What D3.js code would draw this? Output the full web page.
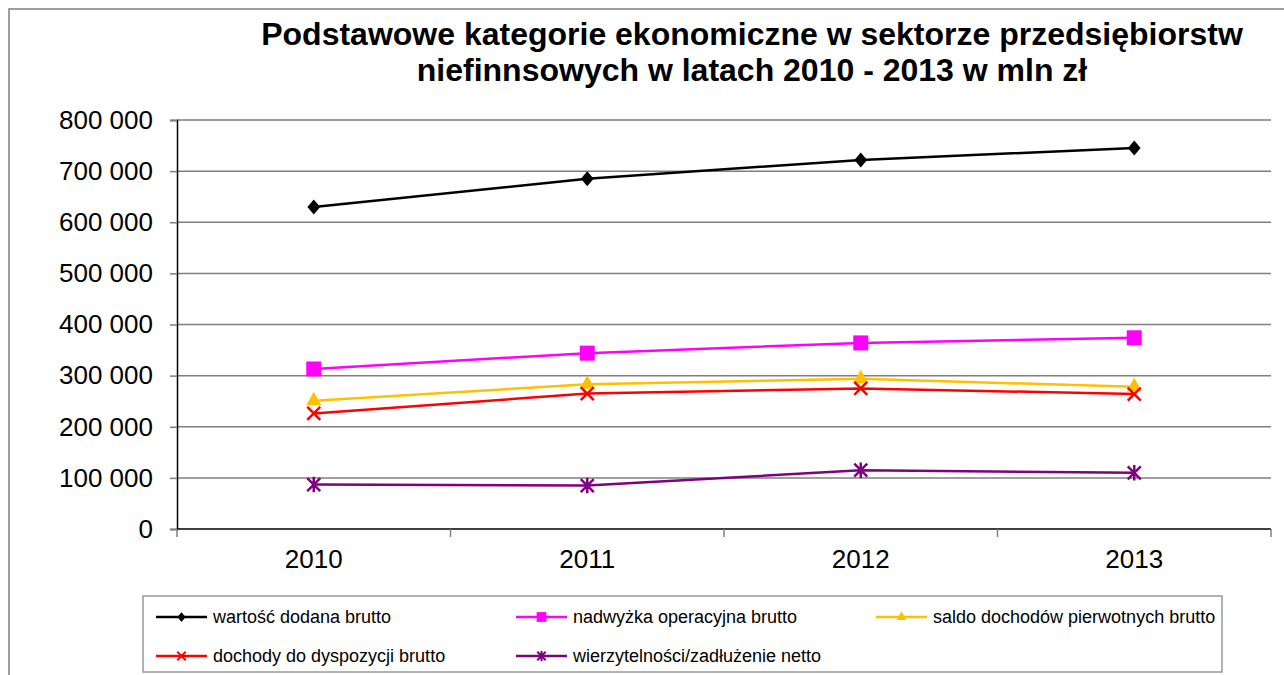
<!DOCTYPE html>
<html>
<head>
<meta charset="utf-8">
<script src="https://cdn.jsdelivr.net/npm/d3@7"></script>
<style>
  body { margin: 0; background: #fff; }
  svg { font-family: "Liberation Sans", Arial, sans-serif; }
</style>
</head>
<body>
<div id="chart"></div>
<script>
const years = ["2010", "2011", "2012", "2013"];
const wartoscDodana = [630000, 685000, 722000, 745000];
const nadwyzka = [313000, 344000, 364000, 374000];
const saldoDochodow = [251000, 283000, 294000, 278000];
const dochodyDyspozycji = [226000, 265000, 275000, 264000];
const wierzytelnosci = [87000, 85000, 115000, 110000];
const yTicks = [0, 100000, 200000, 300000, 400000, 500000, 600000, 700000, 800000];

const series = [
    { name: "wartość dodana brutto", values: wartoscDodana, color: "#000000", marker: "diamond" },
    { name: "nadwyżka operacyjna brutto", values: nadwyzka, color: "#FF00FF", marker: "square" },
    { name: "saldo dochodów pierwotnych brutto", values: saldoDochodow, color: "#FFC000", marker: "triangle" },
    { name: "dochody do dyspozycji brutto", values: dochodyDyspozycji, color: "#FF0000", marker: "x" },
    { name: "wierzytelności/zadłużenie netto", values: wierzytelnosci, color: "#800080", marker: "star" }
];

var width = 1284, height = 675;
var margin = { top: 120, right: 13, bottom: 146, left: 177 };

const svg = d3.select("#chart").append("svg").attr("width", width).attr("height", height);

// outer frame (only top & left visible)
svg.append("path")
    .attr("d", `M9,${height} L9,9 L${width},9`)
    .attr("fill", "none")
    .attr("stroke", "#808080")
    .attr("stroke-width", 1.5);

const x_scale = d3.scaleBand()
    .domain(years)
    .range([margin.left, width - margin.right])
    .padding(0);

const y_scale = d3.scaleLinear()
    .domain([0, 800000])
    .range([height - margin.bottom, margin.top]);

const fmt = d3.formatLocale({ decimal: ",", thousands: " ", grouping: [3], currency: ["", ""] }).format(",");

// gridlines
svg.append("g")
    .selectAll("line")
    .data(yTicks.filter(d => d > 0))
    .join("line")
    .attr("x1", margin.left)
    .attr("x2", width - margin.right)
    .attr("y1", d => y_scale(d))
    .attr("y2", d => y_scale(d))
    .attr("stroke", "#7f7f7f")
    .attr("stroke-width", 1.5);

// y axis
const yAxis = svg.append("g")
    .attr("transform", `translate(${margin.left},0)`)
    .call(d3.axisLeft(y_scale).tickValues(yTicks).tickFormat(fmt).tickSize(7).tickPadding(17));
yAxis.select(".domain").attr("stroke", "#000").attr("stroke-width", 1.5);
yAxis.selectAll(".tick line").attr("stroke", "#7f7f7f").attr("stroke-width", 1.5);
yAxis.selectAll("text").attr("font-size", "26px").attr("fill", "#000");
yAxis.attr("font-family", null);

// x axis
const xAxis = svg.append("g")
    .attr("transform", `translate(0,${height - margin.bottom})`)
    .call(d3.axisBottom(x_scale).tickSize(0).tickPadding(21));
xAxis.select(".domain").remove();
xAxis.selectAll("text").attr("font-size", "26px").attr("fill", "#000");
xAxis.attr("font-family", null);

svg.append("line")
    .attr("x1", margin.left).attr("x2", width - margin.right)
    .attr("y1", y_scale(0)).attr("y2", y_scale(0))
    .attr("stroke", "#000").attr("stroke-width", 1.5);

const boundaries = years.map(d => x_scale(d)).concat([x_scale.range()[1]]);
svg.append("g")
    .selectAll("line")
    .data(boundaries)
    .join("line")
    .attr("x1", d => d).attr("x2", d => d)
    .attr("y1", y_scale(0)).attr("y2", y_scale(0) + 8)
    .attr("stroke", "#7f7f7f")
    .attr("stroke-width", 1.5);

// markers
function markerPath(type, s) {
    if (type === "diamond") return `M0,${-s}L${s * 0.85},0L0,${s}L${-s * 0.85},0Z`;
    if (type === "square") return `M${-s},${-s}H${s}V${s}H${-s}Z`;
    if (type === "triangle") return `M0,${-s * 1.2}L${s},${s * 0.6}H${-s}Z`;
    if (type === "x") return `M${-s},${-s}L${s},${s}M${-s},${s}L${s},${-s}`;
    if (type === "star") return `M${-s},${-s}L${s},${s}M${-s},${s}L${s},${-s}M0,${-s * 1.2}V${s * 1.2}`;
}
const markerSize = { diamond: 7.5, square: 7.5, triangle: 7.5, x: 6.5, star: 6.5 };

const cx = d => x_scale(d) + x_scale.bandwidth() / 2;

series.forEach(s => {
    const pts = years.map((y, i) => ({ year: y, value: s.values[i] }));
    svg.append("path")
        .datum(pts)
        .attr("stroke", s.color)
        .attr("fill", "none")
        .attr("stroke-width", 2.5)
        .attr("d", d3.line().x(d => cx(d.year)).y(d => y_scale(d.value)));

    const filled = s.marker === "diamond" || s.marker === "square" || s.marker === "triangle";
    svg.append("g")
        .selectAll("path")
        .data(pts)
        .join("path")
        .attr("transform", d => `translate(${cx(d.year)},${y_scale(d.value)})`)
        .attr("d", markerPath(s.marker, markerSize[s.marker]))
        .attr("fill", filled ? s.color : "none")
        .attr("stroke", s.color)
        .attr("stroke-width", filled ? 0 : 2.5);
});

// title
const title = svg.append("text")
    .attr("text-anchor", "middle")
    .style("font-weight", "bold")
    .style("font-size", "32px")
    .attr("fill", "#000");
title.append("tspan").attr("x", 752).attr("y", 45).text("Podstawowe kategorie ekonomiczne w sektorze przedsiębiorstw");
title.append("tspan").attr("x", 752).attr("y", 81).text("niefinnsowych w latach 2010 - 2013 w mln zł");

// legend
svg.append("rect")
    .attr("x", 143).attr("y", 596)
    .attr("width", 1079).attr("height", 76)
    .attr("fill", "#fff")
    .attr("stroke", "#999")
    .attr("stroke-width", 1.5);

const legendPos = [[156, 617], [516, 617], [876, 617], [156, 656], [516, 656]];
const legend = svg.append("g")
    .selectAll("g")
    .data(series)
    .join("g")
    .attr("transform", (d, i) => `translate(${legendPos[i][0]},${legendPos[i][1]})`);

legend.append("line")
    .attr("x1", 0).attr("x2", 51)
    .attr("stroke", d => d.color)
    .attr("stroke-width", 2.5);
legend.append("path")
    .attr("transform", "translate(25.5,0)")
    .attr("d", d => markerPath(d.marker, markerSize[d.marker] * 0.65))
    .attr("fill", d => (d.marker === "x" || d.marker === "star") ? "none" : d.color)
    .attr("stroke", d => d.color)
    .attr("stroke-width", d => (d.marker === "x" || d.marker === "star") ? 2 : 0);
legend.append("text")
    .attr("x", 57)
    .attr("dy", "0.35em")
    .style("font-size", "18px")
    .attr("fill", "#000")
    .text(d => d.name);
</script>
</body>
</html>
